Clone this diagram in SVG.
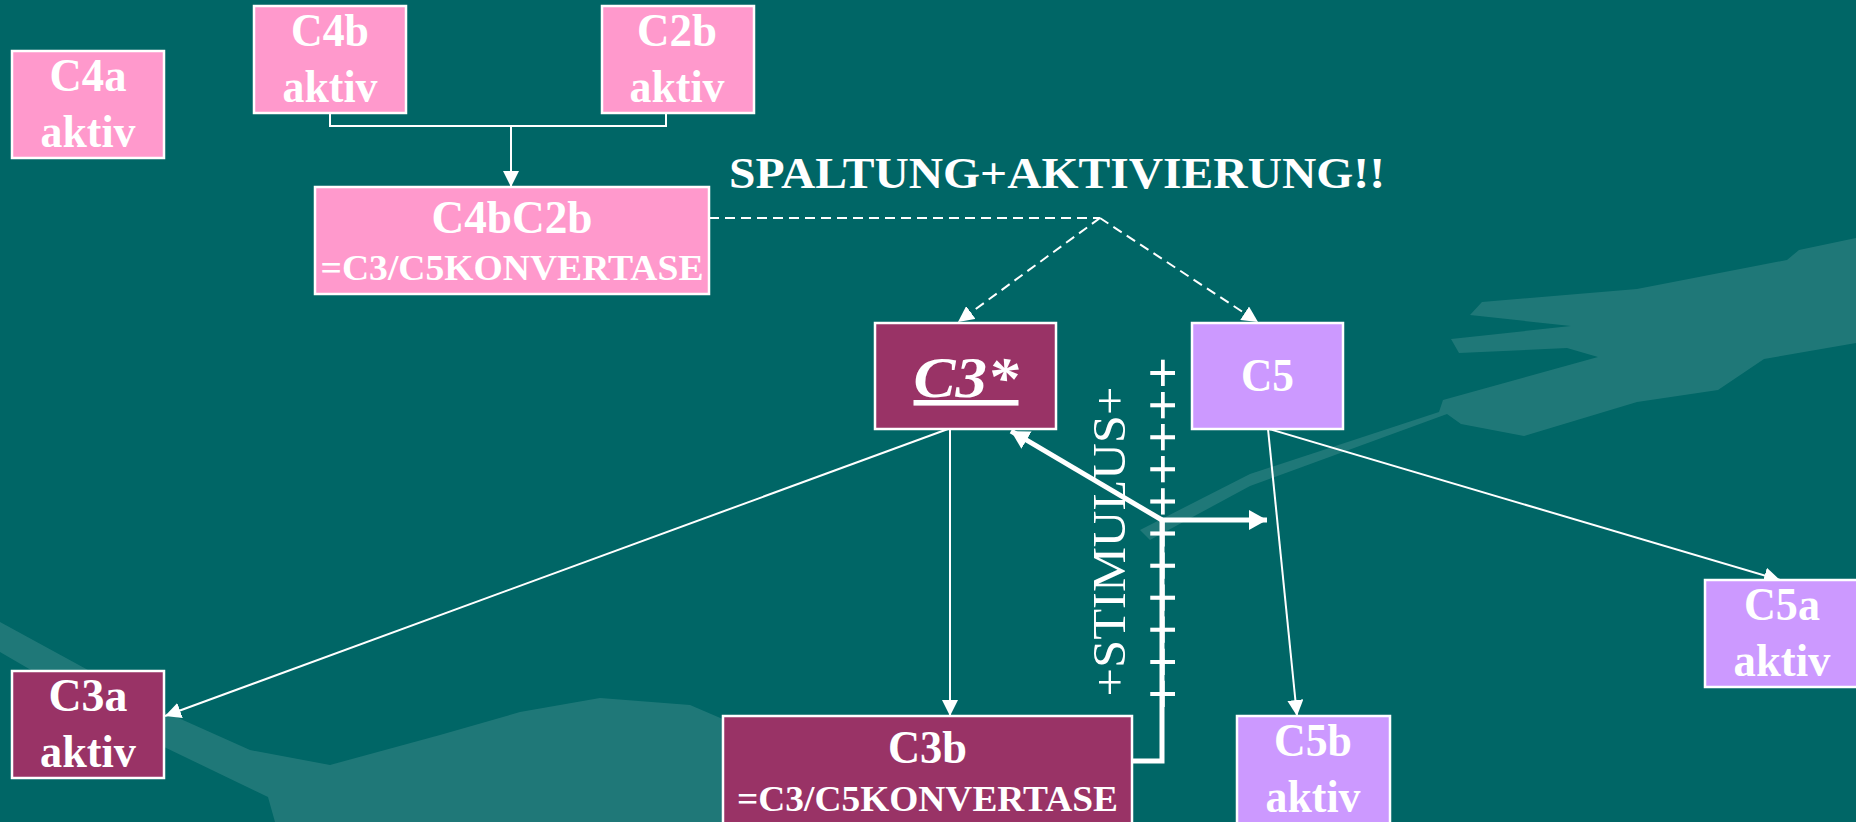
<svg xmlns="http://www.w3.org/2000/svg" width="1856" height="822" viewBox="0 0 1856 822">
<defs>
<style>
.bg{fill:#006666}
.deco{fill:#ffffff;fill-opacity:0.12}
.box{stroke:#ffffff;stroke-width:2.5}
.pink{fill:#FF99CC}
.mag{fill:#993366}
.lav{fill:#CC99FF}
.t{font-family:"Liberation Serif","Times New Roman",serif;font-weight:bold;fill:#ffffff;text-anchor:middle}
.thin{fill:none;stroke:#ffffff;stroke-width:2}
.dash{fill:none;stroke:#ffffff;stroke-width:2;stroke-dasharray:10,6}
.thick{fill:none;stroke:#ffffff;stroke-width:5}
</style>
<marker id="arr" markerUnits="userSpaceOnUse" viewBox="0 0 16 16" markerWidth="16" markerHeight="16" refX="16" refY="8" orient="auto">
<path d="M0,0 L16,8 L0,16 z" fill="#ffffff"/>
</marker>
<marker id="arrT" markerUnits="userSpaceOnUse" viewBox="0 0 18 20" markerWidth="18" markerHeight="20" refX="18" refY="10" orient="auto">
<path d="M0,0 L18,10 L0,20 z" fill="#ffffff"/>
</marker>
</defs>
<rect class="bg" x="0" y="0" width="1856" height="822"/>
<g id="background-decoration">
<path class="deco" d="M1470,315 L1482,302 L1637,289 L1787,260 L1799,250 L1856,238 L1856,343 L1764,359 L1718,390 L1637,402 L1524,436 L1461,424 L1447,414 L1250,486 L1150,540 L1140,530 L1250,474 L1439,412 L1443,400 L1598,357 L1567,348 L1459,353 L1451,339 L1571,326 Z"/>
<path class="deco" d="M0,622 L165,712 L250,750 L330,765 L440,735 L520,712 L600,698 L690,705 L760,735 L780,822 L275,822 L268,797 L160,745 L0,652 Z"/>
</g>
<g id="connectors">
<path class="thin" d="M330,113 L330,126 L666,126 L666,113"/>
<path class="thin" d="M511,126 L511,187" marker-end="url(#arr)"/>
<path class="dash" d="M709,218 L1100,218"/>
<path class="dash" d="M1100,218 L958,322" marker-end="url(#arr)"/>
<path class="dash" d="M1100,218 L1258,322" marker-end="url(#arr)"/>
<path class="thin" d="M948,429 L165,716" marker-end="url(#arr)"/>
<path class="thin" d="M950,429 L950,716" marker-end="url(#arr)"/>
<path class="thin" d="M1268,429 L1297,716" marker-end="url(#arr)"/>
<path class="thin" d="M1269,429 L1780,580" marker-end="url(#arr)"/>
<path class="thick" d="M1132,761 L1162,761 L1162,520"/>
<path class="thick" d="M1162,520 L1011,431" marker-end="url(#arrT)"/>
<path class="thick" d="M1162,520 L1267,520" marker-end="url(#arrT)"/>
</g>
<g id="labels">
<text class="t" x="1057" y="188" font-size="45" textLength="656" lengthAdjust="spacingAndGlyphs">SPALTUNG+AKTIVIERUNG!!</text>
<text transform="translate(1125,541.5) rotate(-90)" x="0" y="0" font-family="Liberation Serif, Times New Roman, serif" font-size="46" fill="#ffffff" text-anchor="middle" textLength="310" lengthAdjust="spacingAndGlyphs">+STIMULUS+</text>
<text transform="translate(1167,533.5) rotate(-90)" x="0" y="13" font-family="Liberation Serif, Times New Roman, serif" font-weight="bold" font-size="52" fill="#ffffff" text-anchor="middle" textLength="353" lengthAdjust="spacingAndGlyphs">+++++++++++</text>
</g>
<g id="C4a">
<rect class="box pink" x="12" y="51" width="152" height="107"/>
<text class="t" x="88" y="91" font-size="46" textLength="77" lengthAdjust="spacingAndGlyphs">C4a</text>
<text class="t" x="88" y="147" font-size="46" textLength="95" lengthAdjust="spacingAndGlyphs">aktiv</text>
</g>
<g id="C4b">
<rect class="box pink" x="254" y="6" width="152" height="107"/>
<text class="t" x="330" y="46" font-size="46" textLength="78" lengthAdjust="spacingAndGlyphs">C4b</text>
<text class="t" x="330" y="102" font-size="46" textLength="95" lengthAdjust="spacingAndGlyphs">aktiv</text>
</g>
<g id="C2b">
<rect class="box pink" x="602" y="6" width="152" height="107"/>
<text class="t" x="677" y="46" font-size="46" textLength="80" lengthAdjust="spacingAndGlyphs">C2b</text>
<text class="t" x="677" y="102" font-size="46" textLength="95" lengthAdjust="spacingAndGlyphs">aktiv</text>
</g>
<g id="C4bC2b">
<rect class="box pink" x="315" y="187" width="394" height="107"/>
<text class="t" x="512" y="233" font-size="46" textLength="161" lengthAdjust="spacingAndGlyphs">C4bC2b</text>
<text class="t" x="512" y="280" font-size="36" textLength="383" lengthAdjust="spacingAndGlyphs">=C3/C5KONVERTASE</text>
</g>
<g id="C3star">
<rect class="box mag" x="875" y="323" width="181" height="106"/>
<text class="t" x="966" y="397" font-size="56" font-style="italic" text-decoration="underline" textLength="105" lengthAdjust="spacingAndGlyphs">C3*</text>
</g>
<g id="C5">
<rect class="box lav" x="1192" y="323" width="151" height="106"/>
<text class="t" x="1267.5" y="391" font-size="47" textLength="53" lengthAdjust="spacingAndGlyphs">C5</text>
</g>
<g id="C3a">
<rect class="box mag" x="12" y="671" width="152" height="107"/>
<text class="t" x="88" y="711" font-size="46" textLength="79" lengthAdjust="spacingAndGlyphs">C3a</text>
<text class="t" x="88" y="767" font-size="46" textLength="96" lengthAdjust="spacingAndGlyphs">aktiv</text>
</g>
<g id="C3b">
<rect class="box mag" x="723" y="716" width="409" height="120"/>
<text class="t" x="927.5" y="763" font-size="46" textLength="79" lengthAdjust="spacingAndGlyphs">C3b</text>
<text class="t" x="927.5" y="811" font-size="36" textLength="381" lengthAdjust="spacingAndGlyphs">=C3/C5KONVERTASE</text>
</g>
<g id="C5b">
<rect class="box lav" x="1237" y="716" width="153" height="120"/>
<text class="t" x="1313" y="756" font-size="46" textLength="78" lengthAdjust="spacingAndGlyphs">C5b</text>
<text class="t" x="1313" y="812" font-size="46" textLength="95" lengthAdjust="spacingAndGlyphs">aktiv</text>
</g>
<g id="C5a">
<rect class="box lav" x="1705" y="580" width="153" height="107"/>
<text class="t" x="1782" y="620" font-size="46" textLength="76" lengthAdjust="spacingAndGlyphs">C5a</text>
<text class="t" x="1782" y="676" font-size="46" textLength="97" lengthAdjust="spacingAndGlyphs">aktiv</text>
</g>
</svg>
